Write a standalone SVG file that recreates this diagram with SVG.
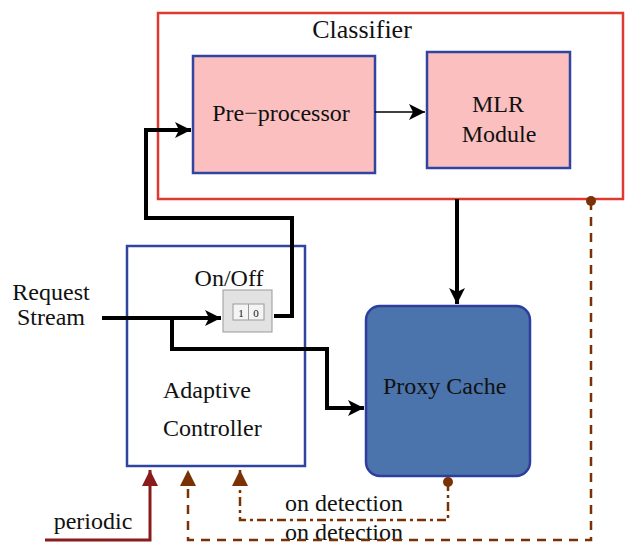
<svg xmlns="http://www.w3.org/2000/svg" width="625" height="542" viewBox="0 0 625 542">
  <style>
    text { font-family: "Liberation Serif", "Times New Roman", serif; fill: #111; font-size: 24px; }
    .blk { fill: #fbbfc0; stroke: #2f45a0; stroke-width: 2.5; }
    .wire { fill: none; stroke: #000; stroke-width: 4; }
    .bdash { fill: none; stroke: #7a3205; stroke-width: 2.5; stroke-dasharray: 9 7; }
    .bdot { fill: none; stroke: #7a3205; stroke-width: 2.5; stroke-dasharray: 9 4 3 4; }
  </style>
  <defs>
    <marker id="ahThin" viewBox="0 0 10 10" refX="10" refY="5" markerWidth="22" markerHeight="16" markerUnits="userSpaceOnUse" orient="auto">
      <path d="M0,0 L10,5 L0,10 L2.5,5 Z" fill="#000"/>
    </marker>
    <marker id="ahBrown" viewBox="0 0 10 10" refX="10" refY="5" markerWidth="22" markerHeight="16" markerUnits="userSpaceOnUse" orient="auto">
      <path d="M0,0 L10,5 L0,10 Z" fill="#7a3205"/>
    </marker>
    <marker id="ahRed" viewBox="0 0 10 10" refX="10" refY="5" markerWidth="22" markerHeight="16" markerUnits="userSpaceOnUse" orient="auto">
      <path d="M0,0 L10,5 L0,10 Z" fill="#8b1a1a"/>
    </marker>
  </defs>

  <!-- Classifier container -->
  <g id="classifier">
    <rect x="158" y="13" width="465" height="186" fill="none" stroke="#e03a30" stroke-width="2.5"/>
    <text x="362" y="38" font-size="26" style="font-size:26px" text-anchor="middle">Classifier</text>
  </g>

  <g id="preprocessor">
    <rect class="blk" x="193" y="56" width="182" height="117"/>
    <text x="281" y="121" text-anchor="middle">Pre−processor</text>
  </g>

  <g id="mlr">
    <rect class="blk" x="427" y="52" width="143" height="116"/>
    <text x="498" y="112" text-anchor="middle">MLR</text>
    <text x="499" y="142" text-anchor="middle">Module</text>
  </g>

  <g id="controller">
    <rect x="127" y="246" width="178" height="220" fill="#fff" stroke="#2f45a0" stroke-width="2.5"/>
    <text x="163" y="398">Adaptive</text>
    <text x="163" y="436">Controller</text>
  </g>

  <g id="proxy">
    <rect x="366" y="306" width="164" height="170" rx="14" fill="#4a74ab" stroke="#2d3e9e" stroke-width="2.5"/>
    <text x="383" y="394">Proxy Cache</text>
  </g>

  <g id="switch">
    <text x="229" y="286" text-anchor="middle">On/Off</text>
    <rect x="223" y="290" width="49" height="42" fill="#e2e2e2" stroke="#999" stroke-width="1"/>
    <rect x="233" y="304" width="31" height="16" fill="#f4f4f4" stroke="#999" stroke-width="1"/>
    <line x1="248.5" y1="304" x2="248.5" y2="320" stroke="#999" stroke-width="1"/>
    <text x="241" y="317" style="font-size:11px" text-anchor="middle">1</text>
    <text x="256" y="317" style="font-size:11px" text-anchor="middle">0</text>
  </g>

  <g id="labels">
    <text x="51" y="300" text-anchor="middle">Request</text>
    <text x="51" y="325" text-anchor="middle">Stream</text>
    <text x="93" y="529" text-anchor="middle">periodic</text>
    <text x="344" y="511" text-anchor="middle">on detection</text>
    <text x="344" y="540" text-anchor="middle">on detection</text>
  </g>

  <g id="connectors">
    <!-- data path -->
    <line x1="375" y1="112" x2="425" y2="112" stroke="#000" stroke-width="1.6" marker-end="url(#ahThin)"/>
    <polyline class="wire" points="102,318 221,318" marker-end="url(#ahThin)"/>
    <polyline class="wire" points="172,318 172,349 327,349 327,408 364,408" marker-end="url(#ahThin)"/>
    <polyline class="wire" points="274,316 292,316 292,218 146,218 146,130 191,130" marker-end="url(#ahThin)"/>
    <polyline class="wire" points="457,199 457,304" marker-end="url(#ahThin)"/>

    <!-- control signals -->
    <polyline class="bdash" points="591,201 591,540 188,540 188,470" marker-end="url(#ahBrown)"/>
    <circle cx="591" cy="201" r="5" fill="#7a3205"/>
    <polyline class="bdot" points="448,482 448,520 240,520 240,470" marker-end="url(#ahBrown)"/>
    <circle cx="448" cy="482" r="5" fill="#7a3205"/>
    <polyline points="45,540 150,540 150,470" fill="none" stroke="#8b1a1a" stroke-width="3" marker-end="url(#ahRed)"/>
  </g>
</svg>
